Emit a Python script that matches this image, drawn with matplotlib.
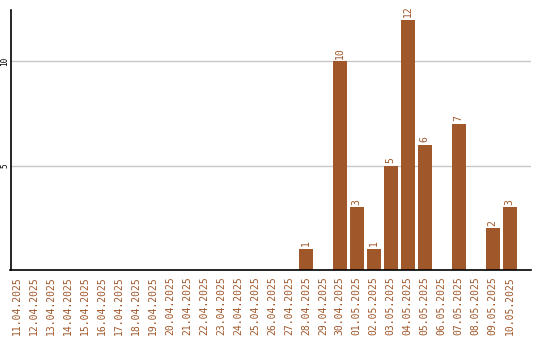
import numpy as np
import matplotlib
matplotlib.use('Agg')
from matplotlib import pyplot as plt

# daily counts, 11.04.2025 - 10.05.2025
dates = ['11.04.2025', '12.04.2025', '13.04.2025', '14.04.2025', '15.04.2025',
         '16.04.2025', '17.04.2025', '18.04.2025', '19.04.2025', '20.04.2025',
         '21.04.2025', '22.04.2025', '23.04.2025', '24.04.2025', '25.04.2025',
         '26.04.2025', '27.04.2025', '28.04.2025', '29.04.2025', '30.04.2025',
         '01.05.2025', '02.05.2025', '03.05.2025', '04.05.2025', '05.05.2025',
         '06.05.2025', '07.05.2025', '08.05.2025', '09.05.2025', '10.05.2025']
counts = [0, 0, 0, 0, 0, 0, 0, 0, 0, 0,
          0, 0, 0, 0, 0, 0, 0, 1, 0, 10,
          3, 1, 5, 12, 6, 0, 7, 0, 2, 3]
yticks = [5, 10]

color = '#a0572a'
mono = 'DejaVu Sans Mono'

fig = plt.figure(figsize=(5.4, 3.4), dpi=100)
ax = fig.add_axes([10.5/540, 70/340, 520.5/540, 260/340])

x = np.arange(len(dates))
ax.bar(x, counts, width=0.82, color=color, zorder=2)

for xi, c in zip(x, counts):
    if c > 0:
        ax.annotate(str(c), (xi, c), xytext=(0, 2), textcoords='offset points',
                    rotation=90, ha='center', va='bottom', color=color,
                    fontsize=7, family=mono)

ax.set_xlim(-0.38, 30.25)
ax.set_ylim(0, 12.47)
ax.set_xticks(x)
ax.set_xticklabels(dates, rotation=90, family=mono, fontsize=7, color=color)
ax.set_yticks(yticks)
ax.set_yticklabels([str(v) for v in yticks], rotation=90, family=mono,
                   fontsize=5.5, va='center')
ax.tick_params(axis='both', length=0)
ax.tick_params(axis='x', pad=4.5)
ax.tick_params(axis='y', pad=1)
ax.yaxis.grid(True, color='#c8c8c8', linewidth=1, zorder=0)
ax.set_axisbelow(True)
for s in ['top', 'right']:
    ax.spines[s].set_visible(False)
for s in ['left', 'bottom']:
    ax.spines[s].set_linewidth(1.2)
    ax.spines[s].set_color('black')

fig.savefig('out.png', dpi=100)
